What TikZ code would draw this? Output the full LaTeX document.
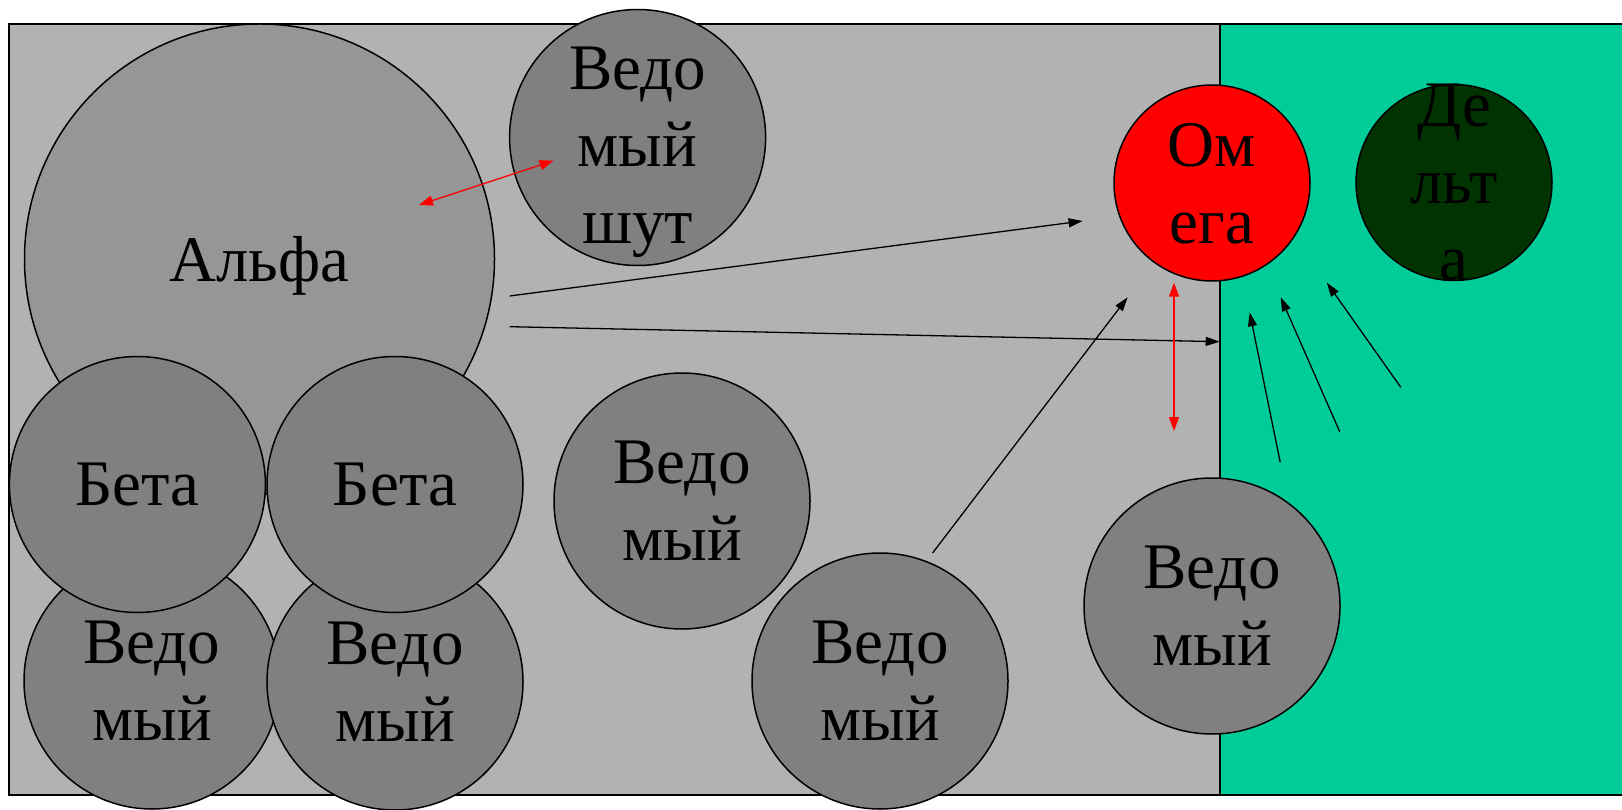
\documentclass[tikz,border=0pt]{standalone}
\usepackage{fontspec}
\setmainfont{Liberation Serif}
\usetikzlibrary{arrows.meta}
\definecolor{bggray}{RGB}{178,178,178}
\definecolor{alphagray}{RGB}{150,150,150}
\definecolor{circgray}{RGB}{128,128,128}
\definecolor{greenzone}{RGB}{0,204,153}
\definecolor{deltagreen}{RGB}{0,51,0}
\begin{document}
\begin{tikzpicture}[x=1pt,y=-1pt,
  circ/.style={circle, draw=black, line width=1.5pt, inner sep=0pt,
    minimum size=256pt, fill=circgray, font=\fontsize{65}{77}\selectfont, align=center, text depth=0pt},
  bigtxt/.style={font=\fontsize{65}{77}\selectfont, align=center, inner sep=0pt, text depth=0pt},
  arr/.style={-{Triangle[length=14pt,width=9pt]}, line width=1.3pt, black},
  redarr/.style={{Triangle[length=14pt,width=10pt]}-{Triangle[length=14pt,width=10pt]}, line width=1.3pt, red}]
\useasboundingbox (0,0) rectangle (1622,810);
\fill[white] (0,0) rectangle (1622,810);
\fill[bggray] (9,24) rectangle (1220,795);
\fill[greenzone] (1220,24) rectangle (1630,795);
\draw[line width=1.6pt] (1630,24) -- (9,24) -- (9,795) -- (1630,795);
\draw[line width=1.3pt] (1220,24) -- (1220,795);

\node[circ, fill=alphagray, minimum size=470pt] (alpha) at (259.5,259) {Альфа};
\node[circ] (jester) at (637.6,137.5) {};
\node[bigtxt, yshift=-8pt] (jestertxt) at (jester.center) {Ведо\\мый\\шут};
\node[circ] (ved1) at (152,681) {Ведо\\мый};
\node[circ] (ved2) at (395,682) {Ведо\\мый};
\node[circ] (beta1) at (137.4,484.5) {Бета};
\node[circ] (beta2) at (395,484.5) {Бета};
\node[circ] (vedmid) at (682,501) {Ведо\\мый};
\node[circ] (ved3) at (880,681) {Ведо\\мый};
\node[circ] (vedright) at (1212,606) {Ведо\\мый};
\node[circ, fill=red, minimum size=196pt] (omega) at (1212,183) {Ом\\ега};
\node[circ, fill=deltagreen, minimum size=196pt] (delta) at (1454,182.5) {};
\node[bigtxt] (deltatxt) at (delta.center) {Де\\льт\\а};

\coordinate (a1s) at (419,205);
\coordinate (a1e) at (553.5,160.7);
\coordinate (a2s) at (509.6,296);
\coordinate (a2e) at (1082.6,221);
\coordinate (a3s) at (509.6,326.7);
\coordinate (a3e) at (1219.7,341.7);
\coordinate (a4s) at (932.6,553);
\coordinate (a4e) at (1127.6,297.3);
\coordinate (a5s) at (1174,282.7);
\coordinate (a5e) at (1174,431);
\coordinate (a6s) at (1280.2,462.3);
\coordinate (a6e) at (1249.7,312.3);
\coordinate (a7s) at (1339.7,431.7);
\coordinate (a7e) at (1280.7,297.3);
\coordinate (a8s) at (1400.8,387.3);
\coordinate (a8e) at (1326.8,282.7);

\draw[redarr] (a1s) -- (a1e);
\draw[arr] (a2s) -- (a2e);
\draw[arr] (a3s) -- (a3e);
\draw[arr] (a4s) -- (a4e);
\draw[redarr] (a5s) -- (a5e);
\draw[arr] (a6s) -- (a6e);
\draw[arr] (a7s) -- (a7e);
\draw[arr] (a8s) -- (a8e);
\end{tikzpicture}
\end{document}
